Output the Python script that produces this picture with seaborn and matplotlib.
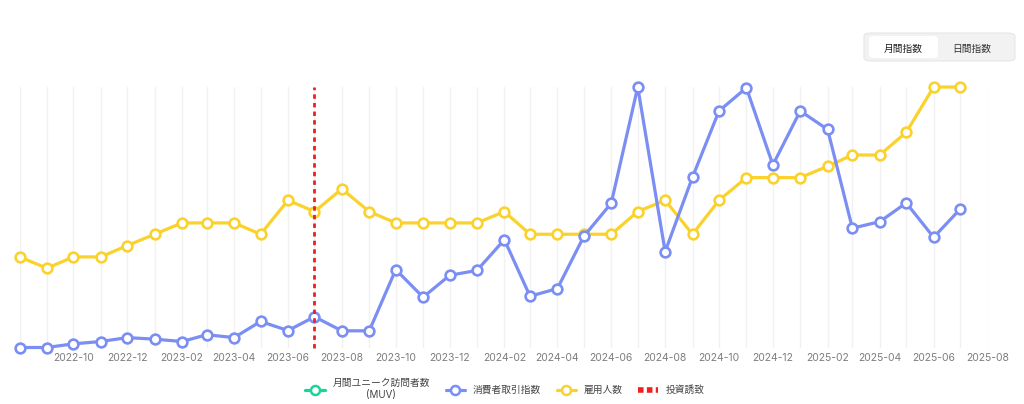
import numpy as np
import pandas as pd
import matplotlib
matplotlib.use("Agg")
import matplotlib.pyplot as plt
import matplotlib.dates as mdates
from matplotlib.lines import Line2D
from matplotlib.patches import FancyBboxPatch
import seaborn as sns

# ---- data ----
months = pd.date_range("2022-08-01", "2025-07-01", freq="MS")
employees = [8, 7, 8, 8, 9, 10, 11, 11, 11, 10, 13, 12, 14, 12, 11, 11, 11, 11,
             12, 10, 10, 10, 10, 12, 13, 10, 13, 15, 15, 15, 16, 17, 17, 19, 23, 23]
consumer_index = [0, 0, 1.4, 2.3, 3.8, 3.2, 2.3, 4.9, 3.8, 10.0, 6.5, 11.8,
                  6.4, 6.4, 29.9, 19.3, 27.7, 29.6, 41.4, 19.7, 22.6, 42.7, 55.4, 100,
                  36.8, 65.4, 90.8, 99.7, 70.1, 90.8, 83.7, 45.8, 48.3, 55.5, 42.3, 53.1]
investment_date = pd.Timestamp("2023-07-01")
tick_months = pd.date_range("2022-10-01", "2025-08-01", freq="2MS")
legend_labels = ["月間ユニーク訪問者数\n(MUV)", "消費者取引指数", "雇用人数", "投資誘致"]
toggle_labels = ["月間指数", "日間指数"]

df = pd.DataFrame({"month": months, "employees": employees, "consumer": consumer_index})

GREEN = "#1fd19a"
BLUE = "#7a8ef3"
YELLOW = "#fbd22c"
RED = "#ee2020"

sns.set_theme(style="white")
plt.rcParams["font.family"] = ["Inter", "Noto Sans CJK JP", "DejaVu Sans"]

fig = plt.figure(figsize=(10.24, 4.04), dpi=100)
fig.patch.set_facecolor("white")
W, H = 1024, 404
left, right, top, bottom = 19.5, 987.5, 87, 347.5
ax = fig.add_axes([left / W, 1 - bottom / H, (right - left) / W, (bottom - top) / H])
ax2 = ax.twinx()

line_kw = dict(linewidth=2.3, marker="o", markersize=7, markerfacecolor="white",
               markeredgewidth=1.9, clip_on=False)
sns.lineplot(data=df, x="month", y="employees", ax=ax, color=YELLOW,
             markeredgecolor=YELLOW, **line_kw)
sns.lineplot(data=df, x="month", y="consumer", ax=ax2, color=BLUE,
             markeredgecolor=BLUE, **line_kw)
ax2.axvline(investment_date, color=RED, linewidth=2, linestyle=(0, (1.6, 1.5)),
            zorder=5, clip_on=False)

ax.set_ylim(0, 23)
ax2.set_ylim(0, 100)
ax.set_xlim(pd.Timestamp("2022-08-01"), pd.Timestamp("2025-08-01"))

for a in (ax, ax2):
    for s in a.spines.values():
        s.set_visible(False)
    a.set_yticks([])
    a.set_ylabel("")
    a.set_xlabel("")

ax.xaxis.set_minor_locator(mdates.MonthLocator())
ax.set_xticks(tick_months)
ax.set_xticklabels([d.strftime("%Y-%m") for d in tick_months], fontsize=7.5, color="#7d7d7d")
ax.tick_params(axis="x", which="both", length=0, pad=4)
ax.grid(axis="x", which="both", color="#f1f1f1", linewidth=1)
ax.grid(axis="y", visible=False)
ax.set_axisbelow(True)

# legend
handles = [
    Line2D([0], [0], color=GREEN, lw=2.3, marker="o", markersize=6.5,
           markerfacecolor="white", markeredgecolor=GREEN, markeredgewidth=1.8),
    Line2D([0], [0], color=BLUE, lw=2.3, marker="o", markersize=6.5,
           markerfacecolor="white", markeredgecolor=BLUE, markeredgewidth=1.8),
    Line2D([0], [0], color=YELLOW, lw=2.3, marker="o", markersize=6.5,
           markerfacecolor="white", markeredgecolor=YELLOW, markeredgewidth=1.8),
    Line2D([0], [0], color=RED, lw=4, linestyle=(0, (1, 0.6)), solid_capstyle="butt",
           dash_capstyle="butt"),
]
leg = fig.legend(handles, legend_labels, loc="center", bbox_to_anchor=(505 / W, 1 - 389 / H),
                 ncol=4, frameon=False, fontsize=7, handlelength=2.0, handletextpad=0.8,
                 columnspacing=1.6, labelcolor="#444444")
leg.get_texts()[0].set_multialignment("center")

# toggle buttons (top right)
outer = FancyBboxPatch((864 / W, 1 - 61 / H), 151 / W, 28 / H,
                       boxstyle="round,pad=0,rounding_size=0.008", transform=fig.transFigure,
                       facecolor="#f2f2f2", edgecolor="#e6e6e6", linewidth=0.8)
inner = FancyBboxPatch((869 / W, 1 - 58 / H), 69 / W, 22 / H,
                       boxstyle="round,pad=0,rounding_size=0.006", transform=fig.transFigure,
                       facecolor="white", edgecolor="none")
fig.patches.extend([outer, inner])
fig.text(903 / W, 1 - 48.5 / H, toggle_labels[0], ha="center", va="center", fontsize=7,
         color="#222222")
fig.text(972 / W, 1 - 48.5 / H, toggle_labels[1], ha="center", va="center", fontsize=7,
         color="#333333")

fig.savefig("out.png", dpi=100, facecolor="white")
